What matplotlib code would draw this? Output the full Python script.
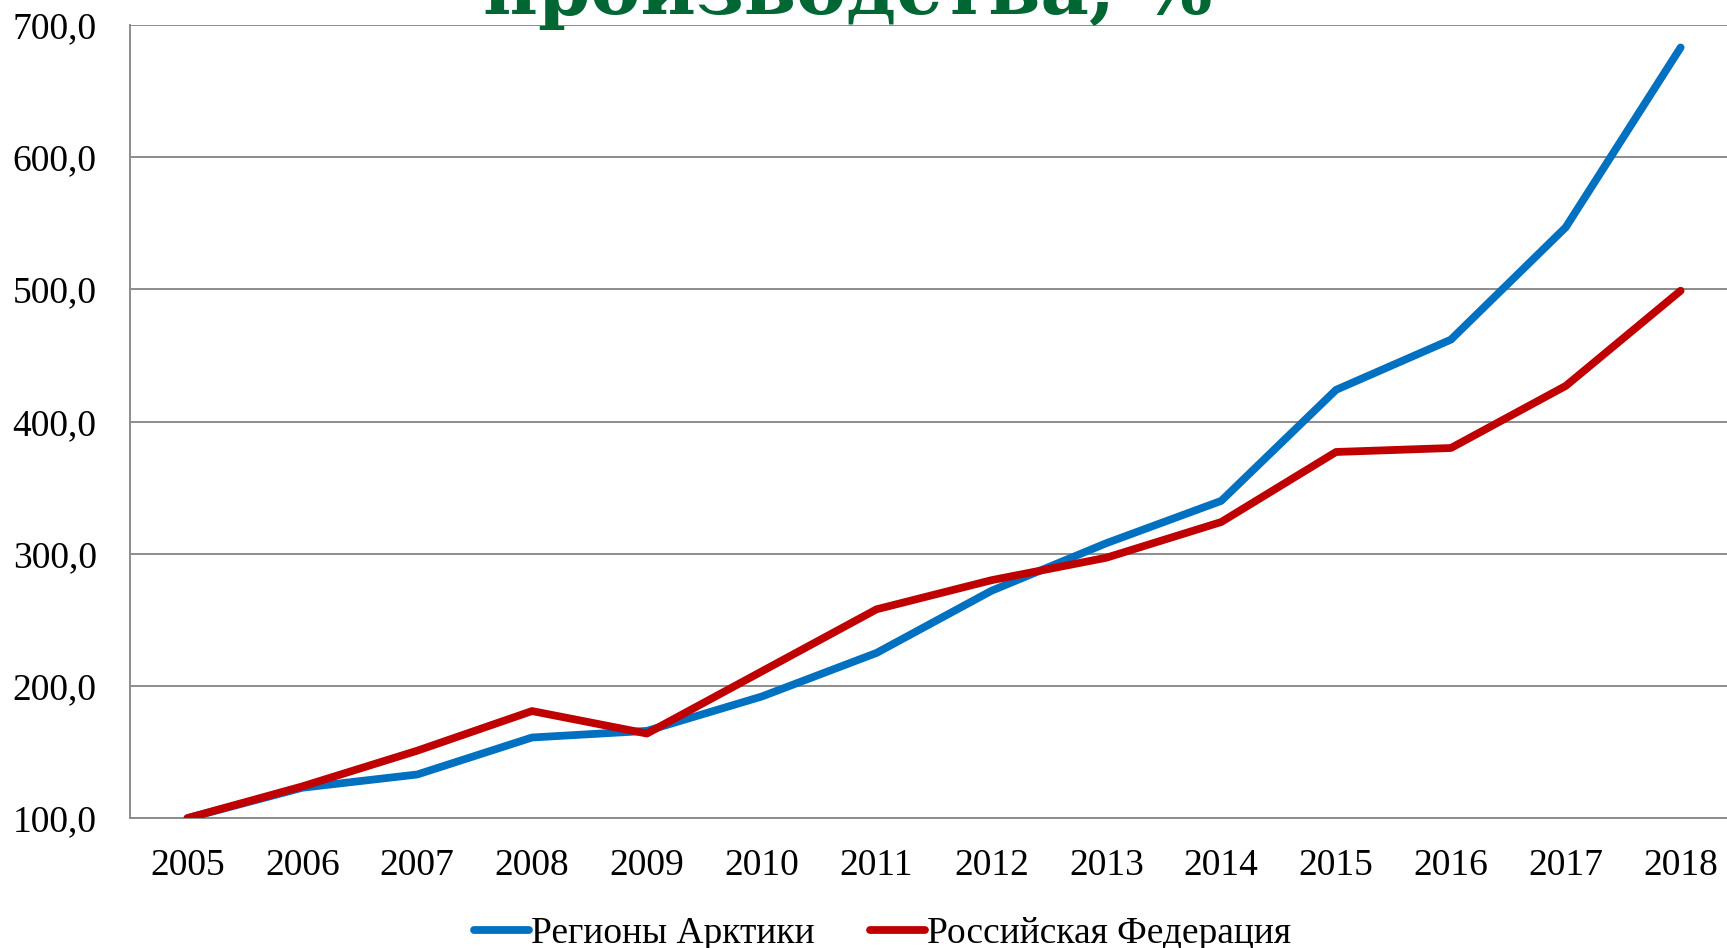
import matplotlib.pyplot as plt

# Годы и индексы (2005 = 100)
years = ["2005", "2006", "2007", "2008", "2009", "2010", "2011",
         "2012", "2013", "2014", "2015", "2016", "2017", "2018"]
arctic = [100, 123, 133, 161, 166, 192, 225, 272, 308, 340, 424, 462, 547, 683]
russia = [100, 124, 151, 181, 164, 211, 258, 280, 297, 324, 377, 380, 427, 499]
y_ticks = [100, 200, 300, 400, 500, 600, 700]

plt.rcParams["font.family"] = ["Liberation Serif", "DejaVu Serif"]

fig = plt.figure(figsize=(17.27, 9.48), dpi=100)
ax = fig.add_axes([0.0753, 0.137, 0.9311, 0.8366])

x = list(range(len(years)))
ax.plot(x, arctic, color="#0070C0", linewidth=5.6, label="Регионы Арктики",
        solid_capstyle="round", solid_joinstyle="round", zorder=3)
ax.plot(x, russia, color="#C00000", linewidth=5.6, label="Российская Федерация",
        solid_capstyle="round", solid_joinstyle="round", zorder=3)

ax.set_xlim(-0.5, 13.5)
ax.set_ylim(100, 700)
ax.set_xticks(x)
ax.set_xticklabels(years)
ax.set_yticks(y_ticks)
ax.set_yticklabels([f"{v},0" for v in y_ticks])
ax.tick_params(axis="both", length=0, labelsize=27, colors="#000000")
ax.tick_params(axis="x", pad=22)
ax.tick_params(axis="y", pad=24)

ax.grid(axis="y", color="#8c8c8c", linewidth=1.4)
ax.set_axisbelow(True)
for side in ["top", "right"]:
    ax.spines[side].set_visible(False)
for side in ["left", "bottom"]:
    ax.spines[side].set_color("#8c8c8c")
    ax.spines[side].set_linewidth(1.4)

# Заголовок (обрезан сверху, как на слайде)
fig.text(0.491, 1 - 14 / 948, "производства, %", ha="center", va="baseline",
         fontsize=54, fontweight="bold", color="#006633",
         family=["DejaVu Serif"])

fig.legend(loc="center", bbox_to_anchor=(0.511, 1 - 934 / 948), ncol=2,
           frameon=False, fontsize=27, handlelength=1.45, handletextpad=0.05,
           columnspacing=1.5)

fig.savefig("out.png", dpi=100)
